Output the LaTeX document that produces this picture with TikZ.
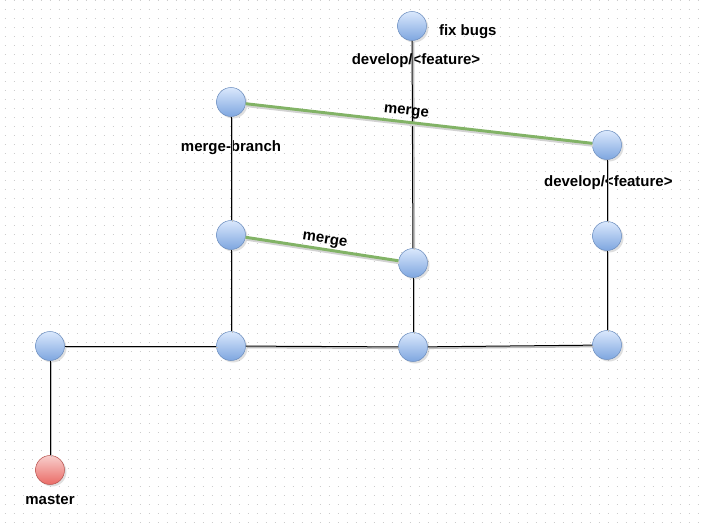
\documentclass[tikz,border=0pt]{standalone}
\usepackage{fontspec}
\setmainfont{Liberation Sans}
\usetikzlibrary{positioning, shadows}

\definecolor{azulBorde}{HTML}{6C8EBF}
\definecolor{azulClaro}{HTML}{DAE8FC}
\definecolor{azulOscuro}{HTML}{7EA6E0}
\definecolor{rojoBorde}{HTML}{B85450}
\definecolor{rojoClaro}{HTML}{F8CECC}
\definecolor{rojoOscuro}{HTML}{EA6B66}
\definecolor{verdeFusion}{HTML}{82B366}

\begin{document}
\begin{tikzpicture}[
    x=0.75pt, y=-0.75pt,
    node distance=8pt,
    every node/.style={font=\fontsize{11.25}{13}\selectfont\bfseries},
    commit/.style={circle, draw=azulBorde, top color=azulClaro, bottom color=azulOscuro, minimum size=21.75pt, inner sep=0pt, drop shadow={shadow xshift=1.5pt, shadow yshift=-1.5pt, opacity=0.25}},
    commitMaster/.style={commit, draw=rojoBorde, top color=rojoClaro, bottom color=rojoOscuro},
    etiqueta/.style={inner sep=0pt},
    puntos/.style={draw=gray!40, line width=0.75pt, dash pattern=on 0.75pt off 6pt},
    rama/.style={draw=black, line width=0.75pt, preaction={draw=gray!50, line width=1.1pt, transform canvas={shift={(1.1pt,-1.1pt)}}}},
    fusion/.style={draw=verdeFusion, line width=2.2pt, preaction={draw=gray!35, line width=2.2pt, transform canvas={shift={(0.6pt,-1.5pt)}}}}
  ]
  \useasboundingbox (0,0) rectangle (704,528);

  % ---------------- Fondo de puntos ----------------
  \foreach \y in {0.7,9.7,...,527} \draw[puntos] (4.6,\y) -- (704,\y);

  % ---------------- Commits ----------------
  \node (ma) [commitMaster] at (50,470) {};
  \node (c1) [commit] at (50,346) {};
  \node (c2) [commit] at (231,346) {};
  \node (c3) [commit] at (413,347) {};
  \node (c4) [commit] at (607,345) {};
  \node (c5) [commit] at (231,235) {};
  \node (c6) [commit] at (413,263) {};
  \node (c7) [commit] at (231,102) {};
  \node (c8) [commit] at (607,145) {};
  \node (c9) [commit] at (607,236) {};
  \node (c10) [commit] at (412,26) {};

  % Etiquetas de ramas
  \node (etqFix) [etiqueta, right=9pt of c10, yshift=-4pt] {fix bugs};
  \node (etqDevTop) [etiqueta, below=9.5pt of c10, xshift=3pt] {develop/<feature>};
  \node (etqBranch) [etiqueta, below=17.5pt of c7] {merge-branch};
  \node (etqDevRight) [etiqueta, below=12pt of c8, xshift=1pt] {develop/<feature>};
  \node (etqMaster) [etiqueta, below=7pt of ma] {master};

  % ---------------- Conexiones ----------------
  \draw[rama] (c1) -- (ma);
  \draw[rama] (c1) -- (c2);
  \draw[rama] (c2) -- (c3);
  \draw[rama] (c3) -- (c4);
  \draw[rama] (c2) -- (c5);
  \draw[rama] (c5) -- (c7);
  \draw[rama] (c3) -- (c6);
  \draw[rama] (c6) -- (c10);
  \draw[rama] (c4) -- (c9);
  \draw[rama] (c9) -- (c8);

  % Fusiones
  \draw[fusion] (c7) -- node (etqMerge1) [etiqueta, sloped, above=2pt, pos=0.46] {merge} (c8);
  \draw[fusion] (c5) -- node (etqMerge2) [etiqueta, sloped, above=1pt, pos=0.51] {merge} (c6);

\end{tikzpicture}
\end{document}
